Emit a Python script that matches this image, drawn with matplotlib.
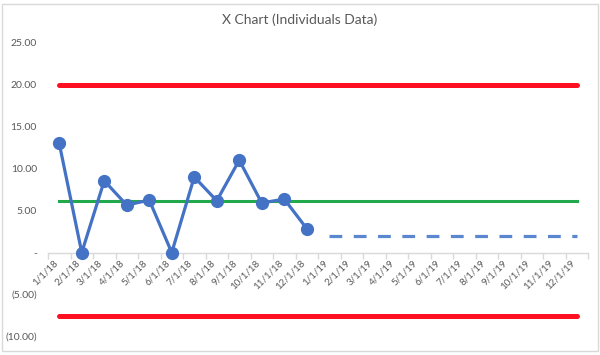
import matplotlib.pyplot as plt
import numpy as np

# months shown on the category axis
months = ['1/1/18', '2/1/18', '3/1/18', '4/1/18', '5/1/18', '6/1/18',
          '7/1/18', '8/1/18', '9/1/18', '10/1/18', '11/1/18', '12/1/18',
          '1/1/19', '2/1/19', '3/1/19', '4/1/19', '5/1/19', '6/1/19',
          '7/1/19', '8/1/19', '9/1/19', '10/1/19', '11/1/19', '12/1/19']

# individuals data (2018)
values = [13.0, 0.0, 8.55, 5.65, 6.25, 0.0, 9.0, 6.17, 11.0, 5.9, 6.37, 2.85]
# projection (2019)
projection = [2.0] * 12

mean = 6.17
ucl = 19.9
lcl = -7.6

y_ticks = [25, 20, 15, 10, 5, 0, -5, -10]
y_labels = ['25.00', '20.00', '15.00', '10.00', '5.00', '-', '(5.00)', '(10.00)']

plt.rcParams['font.family'] = ['Lato', 'DejaVu Sans']

fig = plt.figure(figsize=(6, 3.55), dpi=100)
ax = fig.add_axes([0.08, 0.052, 0.9, 0.828])

x = np.arange(len(months))
n = len(values)

ax.plot(x, [ucl] * len(months), color='#FF1020', lw=3.6, solid_capstyle='round', zorder=2)
ax.plot(x, [lcl] * len(months), color='#FF1020', lw=3.6, solid_capstyle='round', zorder=2)
ax.plot(x, [mean] * len(months), color='#22A94B', lw=2.2, zorder=2)
ax.plot(x[:n], values, color='#4472C4', lw=2.3, marker='o', markersize=8.5, zorder=3)
ax.plot(x[n:], projection, color='#5B87D0', lw=2.3, dashes=(4, 3.6), zorder=3)

ax.set_xlim(-0.5, len(months) - 0.5)
ax.set_ylim(-10, 25)

for s in ['top', 'right', 'left']:
    ax.spines[s].set_visible(False)
ax.spines['bottom'].set_position(('data', 0))
ax.spines['bottom'].set_color('#d9d9d9')
ax.spines['bottom'].set_linewidth(1)

ax.set_xticks(x)
ax.set_xticklabels(months, rotation=45, ha='right', va='top', fontsize=7, color='#595959')
ax.tick_params(axis='x', which='major', length=0, pad=4)
ax.set_xticks(np.arange(-0.5, len(months)), minor=True)
ax.tick_params(axis='x', which='minor', length=4, color='#d9d9d9', width=1)

ax.set_yticks(y_ticks)
ax.set_yticklabels(y_labels, fontsize=7.5, color='#595959')
ax.tick_params(axis='y', length=0, pad=8)

fig.text(0.5, 0.945, 'X Chart (Individuals Data)', ha='center', va='center',
         fontsize=10, color='#595959')

# chart border
fig.patches.append(plt.Rectangle((0.004, 0.01), 0.992, 0.98, transform=fig.transFigure,
                                 fill=False, edgecolor='#d9d9d9', lw=1))

fig.savefig('out.png', dpi=100)
